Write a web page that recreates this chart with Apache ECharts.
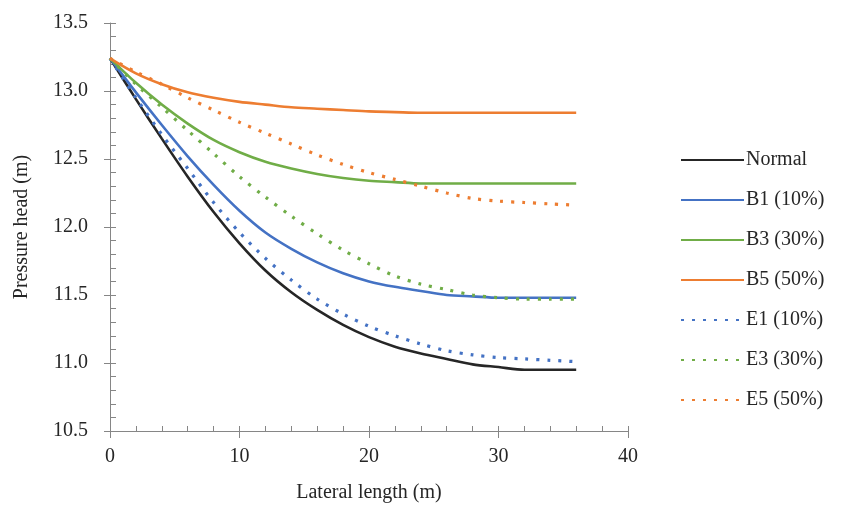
<!DOCTYPE html>
<html>
<head>
<meta charset="utf-8">
<script src="https://cdn.jsdelivr.net/npm/echarts@6/dist/echarts.min.js"></script>
<style>
html,body{margin:0;padding:0;background:#fff;}
#chart{width:851px;height:509px;}
</style>
</head>
<body>
<div id="chart"></div>
<script>
// Lateral length (m)
const xValues = [0, 2, 4, 6, 8, 10, 12, 14, 16, 18, 20, 22, 24, 26, 28, 30, 32, 34, 36];
const seriesNames = ['Normal', 'B1 (10%)', 'B3 (30%)', 'B5 (50%)', 'E1 (10%)', 'E3 (30%)', 'E5 (50%)'];
const normal = [13.24, 12.94, 12.65, 12.37, 12.11, 11.88, 11.68, 11.52, 11.39, 11.28, 11.19, 11.12, 11.07, 11.03, 10.99, 10.97, 10.95, 10.95, 10.95];
const b1 = [13.24, 12.99, 12.75, 12.52, 12.31, 12.12, 11.96, 11.84, 11.74, 11.66, 11.60, 11.56, 11.53, 11.50, 11.49, 11.48, 11.48, 11.48, 11.48];
const b3 = [13.24, 13.06, 12.90, 12.76, 12.64, 12.55, 12.48, 12.43, 12.39, 12.36, 12.34, 12.33, 12.32, 12.32, 12.32, 12.32, 12.32, 12.32, 12.32];
const b5 = [13.24, 13.13, 13.05, 12.99, 12.95, 12.92, 12.90, 12.88, 12.87, 12.86, 12.85, 12.845, 12.84, 12.84, 12.84, 12.84, 12.84, 12.84, 12.84];
const e1 = [13.24, 12.95, 12.68, 12.43, 12.18, 11.96, 11.77, 11.61, 11.47, 11.36, 11.27, 11.20, 11.14, 11.09, 11.06, 11.04, 11.03, 11.02, 11.01];
const e3 = [13.24, 13.05, 12.88, 12.71, 12.54, 12.37, 12.22, 12.08, 11.95, 11.83, 11.73, 11.64, 11.58, 11.54, 11.50, 11.48, 11.47, 11.47, 11.47];
const e5 = [13.24, 13.14, 13.05, 12.95, 12.86, 12.77, 12.69, 12.61, 12.53, 12.46, 12.40, 12.35, 12.30, 12.25, 12.21, 12.19, 12.18, 12.17, 12.16];
const xAxisTitle = 'Lateral length (m)';
const yAxisTitle = 'Pressure head (m)';

const allValues = [normal, b1, b3, b5, e1, e3, e5];
const colors = ['#262626', '#4472C4', '#70AD47', '#ED7D31', '#4472C4', '#70AD47', '#ED7D31'];
const dotted = [false, false, false, false, true, true, true];
const FONT = '"Liberation Serif", "Times New Roman", serif';

const series = allValues.map((vals, i) => ({
  name: seriesNames[i],
  type: 'line',
  xAxisIndex: 0,
  yAxisIndex: 0,
  data: vals.map((v, j) => [xValues[j], v]),
  showSymbol: false,
  symbol: 'circle',
  symbolSize: 0,
  smooth: 0.3,
  color: colors[i],
  lineStyle: dotted[i]
    ? { color: colors[i], width: 3.2, type: [3, 8], cap: 'butt' }
    : { color: colors[i], width: 2.6, type: 'solid' },
  emphasis: { disabled: true },
  z: dotted[i] ? 3 : 2
}));

const axisColor = '#868686';
const chart = echarts.init(document.getElementById('chart'), null, { renderer: 'canvas' });
chart.setOption({
  animation: false,
  backgroundColor: '#ffffff',
  grid: { left: 110, right: 223, top: 23, bottom: 78, containLabel: false, outerBoundsMode: 'none' },
  legend: {
    orient: 'vertical',
    left: 675,
    top: 145,
    itemWidth: 63,
    itemHeight: 14,
    itemGap: 20,
    itemStyle: { color: 'rgba(0,0,0,0)', borderWidth: 0, opacity: 0 },
    textStyle: { fontFamily: FONT, fontSize: 20, color: '#262626', padding: [0, 0, 0, -3] },
    data: seriesNames
  },
  xAxis: [{
    type: 'value', min: 0, max: 40, interval: 10,
    name: xAxisTitle, nameLocation: 'middle', nameGap: 52,
    nameTextStyle: { fontFamily: FONT, fontSize: 20, color: '#262626' },
    axisLine: { show: true, onZero: false, lineStyle: { color: axisColor, width: 1 } },
    axisTick: { show: true, inside: true, length: 5, lineStyle: { color: axisColor } },
    minorTick: { show: true, splitNumber: 5, length: 5, lineStyle: { color: axisColor } },
    axisLabel: { fontFamily: FONT, fontSize: 20, color: '#262626', margin: 16 },
    splitLine: { show: false }
  }, {
    type: 'value', min: 0, max: 40, interval: 10, position: 'bottom',
    axisLine: { show: false },
    axisTick: { show: true, inside: false, length: 7, lineStyle: { color: axisColor } },
    axisLabel: { show: false },
    splitLine: { show: false }
  }],
  yAxis: [{
    type: 'value', min: 10.5, max: 13.5, interval: 0.5,
    name: yAxisTitle, nameLocation: 'middle', nameGap: 78,
    nameTextStyle: { fontFamily: FONT, fontSize: 20, color: '#262626' },
    axisLine: { show: true, onZero: false, lineStyle: { color: axisColor, width: 1 } },
    axisTick: { show: true, inside: true, length: 6, lineStyle: { color: axisColor } },
    minorTick: { show: true, splitNumber: 5, length: 6, lineStyle: { color: axisColor } },
    axisLabel: { fontFamily: FONT, fontSize: 20, color: '#262626', margin: 22, formatter: v => v.toFixed(1) },
    splitLine: { show: false }
  }, {
    type: 'value', min: 10.5, max: 13.5, interval: 0.5, position: 'left',
    axisLine: { show: false },
    axisTick: { show: true, inside: false, length: 6, lineStyle: { color: axisColor } },
    axisLabel: { show: false },
    splitLine: { show: false }
  }],
  series: series
});
</script>
</body>
</html>
